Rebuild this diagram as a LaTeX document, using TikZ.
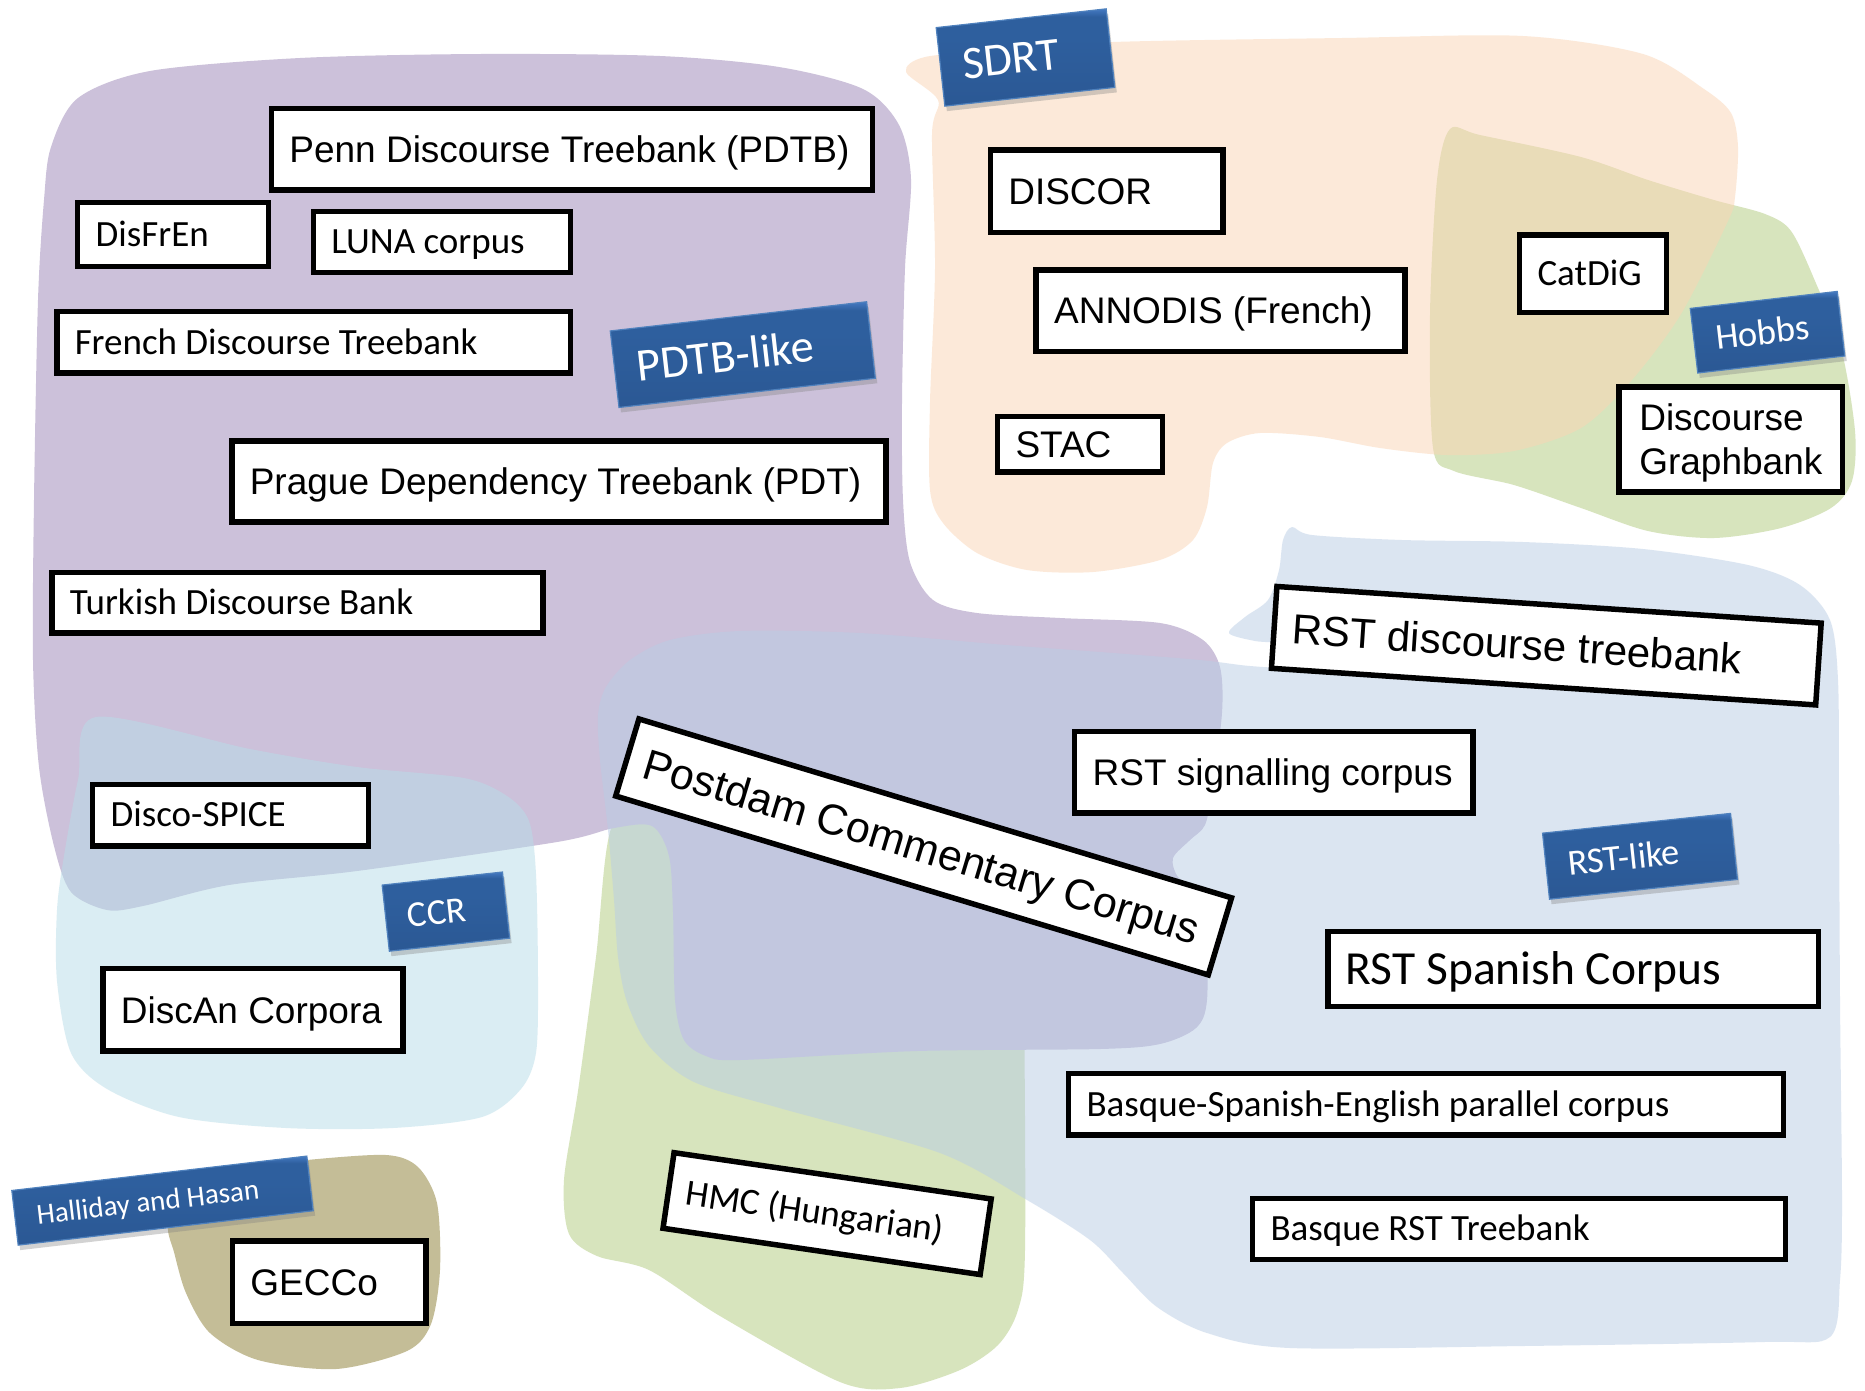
\documentclass[tikz,border=0pt]{standalone}
\usepackage{fontspec}
\usetikzlibrary{shadows}
\setmainfont{Carlito}
\newfontfamily\arialf{Liberation Sans}
\newfontfamily\calibf{Carlito}

% region fills
\definecolor{purpleF}{HTML}{CCC1DA}
\definecolor{cyanF}{HTML}{B7DDE8}
\definecolor{peachF}{HTML}{FBD5B5}
\definecolor{greenF}{HTML}{D7E4BD}
\definecolor{blueF}{HTML}{B9CDE5}
\definecolor{oliveF}{HTML}{C4BD97}
% tag colours
\definecolor{tagbot}{HTML}{2B5894}
\definecolor{tagmid}{HTML}{2E5F9E}
\definecolor{tagtop}{HTML}{4479C2}
\definecolor{tagedge}{HTML}{4F81BD}

\pgfdeclareverticalshading{tagshade}{100bp}{color(0bp)=(tagbot); color(25bp)=(tagbot); color(60bp)=(tagmid); color(71bp)=(tagmid); color(75bp)=(tagtop); color(100bp)=(tagtop)}

\tikzset{
  corpus/.style={draw=black, line width=5.5pt, fill=white, inner xsep=18pt,
    inner ysep=0pt, text depth=0pt},
  tag/.style={shading=tagshade, draw=tagedge, line width=1.2pt, text=white,
    inner xsep=22pt, inner ysep=0pt, text depth=0pt,
    drop shadow={shadow xshift=2pt, shadow yshift=-5pt, opacity=0.35}},
  ar/.style={font=\arialf\fontsize{#1}{#1}\selectfont},
  ca/.style={font=\calibf\fontsize{#1}{#1}\selectfont},
  % text height = cap height, so that capitals sit centred in their box
  a37/.style={ar=37, text height=26.5pt},
  c37/.style={ca=37, text height=23.8pt},
}

\begin{document}
\begin{tikzpicture}[x=1pt, y=-1pt]
\useasboundingbox (0,0) rectangle (1865,1390);
\fill[white] (0,0) rectangle (1865,1390);

% ---------- regions ----------
% Hungarian corpus region
\fill[greenF] plot[smooth cycle, tension=0.5] coordinates {
 (612,826) (660,805) (800,800) (1000,805) (1020,830) (1024,1000) (1025,1250)
 (1018,1310) (998,1345) (960,1370) (900,1388) (840,1382) (720,1316) (649,1270)
 (597,1256) (569,1234) (564,1180) (578,1091) (596,957)};

% PDTB-like region
\fill[purpleF] plot[smooth cycle, tension=0.5] coordinates {
 (51,147) (78,98) (150,71) (300,58) (480,54) (660,56) (779,67) (863,89) (899,125)
 (911,179) (905,268) (902,402) (903,500) (910,562) (933,600) (977,613) (1060,618)
 (1160,623) (1203,640) (1220,667) (1222,713) (1212,790) (1205,825) (1190,840)
 (1173,858) (1178,877) (1198,890) (1206,920) (1207,1000) (1196,1028) (1160,1044)
 (1100,1049) (917,1051) (740,1060) (706,1056) (684,1040) (675,1000) (673,912)
 (669,856) (652,826) (614,828) (557,842) (357,871) (229,885) (143,906) (107,910)
 (71,892) (54,846) (39,767) (33,660) (34,500) (38,300) (44,200)};

% CCR region
\fill[cyanF, fill opacity=0.5] plot[smooth cycle, tension=0.5] coordinates {
 (96,717) (250,749) (357,767) (464,778) (507,796) (529,821) (536,874) (538,981)
 (536,1053) (521,1089) (482,1117) (393,1128) (286,1128) (179,1117) (107,1089)
 (71,1053) (57,981) (57,910) (64,856) (78,780)};

% Hobbs region
\fill[greenF] plot[smooth cycle, tension=0.5] coordinates {
 (1450,129) (1480,135) (1581,157) (1648,180) (1714,200) (1765,214) (1791,231)
 (1815,281) (1841,348) (1855,431) (1852,481) (1831,508) (1781,528) (1714,538)
 (1648,531) (1581,508) (1514,485) (1454,471) (1433,448) (1430,314) (1437,180)};

% SDRT region
\fill[peachF, fill opacity=0.5] plot[smooth cycle, tension=0.5] coordinates {
 (906,72) (925,57) (1000,50) (1113,42) (1342,38) (1523,36) (1643,54) (1704,89)
 (1731,113) (1738,147) (1735,197) (1728,221) (1681,314) (1631,381) (1581,428)
 (1514,451) (1447,455) (1380,448) (1320,437) (1260,433) (1227,443) (1213,463)
 (1207,507) (1193,540) (1160,560) (1093,572) (1027,570) (977,553) (943,523)
 (930,490) (930,402) (935,268) (932,134) (938,100)};

% RST-like region
\fill[blueF, fill opacity=0.5] plot[smooth cycle, tension=0.5] coordinates {
 (606,687) (630,660) (670,640) (740,631) (860,633) (1006,645) (1100,652)
 (1200,660) (1250,666) (1285,666) (1286,645) (1255,641) (1229,633) (1245,617)
 (1268,600) (1279,570) (1283,540) (1292,527) (1312,535) (1402,540) (1523,542)
 (1643,549) (1748,565) (1800,585) (1830,620) (1838,680) (1839,800) (1840,1000)
 (1842,1200) (1840,1280) (1830,1337) (1764,1342) (1523,1346) (1290,1348)
 (1207,1333) (1157,1307) (1123,1273) (1090,1240) (1027,1200) (940,1153)
 (783,1109) (694,1082) (649,1046) (627,1002) (618,957) (614,900) (608,830)
 (600,760) (598,715)};

% GECCo region
\fill[oliveF] plot[smooth cycle, tension=0.5] coordinates {
 (307,1160) (386,1155) (418,1167) (437,1203) (440,1270) (431,1324) (407,1351)
 (336,1369) (258,1360) (210,1333) (186,1293) (174,1252) (168,1226) (180,1190)
 (250,1168)};

% ---------- corpora ----------
\node[corpus, a37, minimum height=81.6] (penn) at (572,149.4)
  {\makebox[565.2pt][l]{Penn Discourse Treebank (PDTB)}};
\node[corpus, c37, minimum height=64.1] (disfren) at (173,234.4)
  {\makebox[154.6pt][l]{DisFrEn}};
\node[corpus, c37, minimum height=61.4] (luna) at (441.9,242)
  {\makebox[221pt][l]{LUNA corpus}};
\node[corpus, c37, minimum height=61.5] (fdtb) at (313.5,342.4)
  {\makebox[477.5pt][l]{French Discourse Treebank}};
\node[corpus, a37, minimum height=80.7] (pdt) at (558.8,481.5)
  {\makebox[618pt][l]{Prague Dependency Treebank (PDT)}};
\node[corpus, c37, minimum height=60.6] (tdb) at (297.4,602.7)
  {\makebox[455pt][l]{Turkish Discourse Bank}};

\node[corpus, a37, minimum height=82.5] (discor) at (1106.6,191.3)
  {\makebox[196.6pt][l]{DISCOR}};
\node[corpus, a37, minimum height=81.5] (annodis) at (1220.5,310.5)
  {\makebox[332.8pt][l]{ANNODIS (French)}};
\node[corpus, a37, minimum height=55.3] (stac) at (1080,444.2)
  {\makebox[129pt][l]{STAC}};
\node[corpus, c37, minimum height=77.6] (catdig) at (1593,273.7)
  {\makebox[111pt][l]{CatDiG}};
\node[corpus, font=\arialf\fontsize{37}{43.3}\selectfont, text height=30pt,
  text depth=47pt, minimum height=105, minimum width=223.6] (graphbank) at (1730.8,439.3)
  {\begin{tabular}[t]{@{}l@{}}Discourse\\Graphbank\end{tabular}};

\node[corpus, ar=42, text height=30.1pt, minimum height=82, rotate=-3.85] (rstdt) at (1546.3,645.7)
  {\makebox[509.5pt][l]{RST discourse treebank}};
\node[corpus, a37, minimum height=81.6] (rstsig) at (1273.9,772.4)
  {\makebox[362.4pt][l]{RST signalling corpus}};
\node[corpus, ca=47.5, text height=30.6pt, minimum height=75] (rstsp) at (1573.1,969)
  {\makebox[454.7pt][l]{RST Spanish Corpus}};
\node[corpus, c37, minimum height=61.5] (bspe) at (1426,1104.3)
  {\makebox[678.8pt][l]{Basque-Spanish-English parallel corpus}};
\node[corpus, c37, minimum height=61] (basquerst) at (1518.9,1229)
  {\makebox[496.8pt][l]{Basque RST Treebank}};

\node[corpus, ar=43, text height=30.8pt, minimum height=80.5, rotate=-16.8] (pcc) at (923.6,846.9)
  {\makebox[583pt][l]{Postdam Commentary Corpus}};
\node[corpus, c37, minimum height=76.4, rotate=-8.3] (hmc) at (827.1,1213.6)
  {\makebox[284.5pt][l]{HMC (Hungarian)}};

\node[corpus, c37, minimum height=61.5] (discospice) at (230.5,815)
  {\makebox[239.7pt][l]{Disco-SPICE}};
\node[corpus, a37, minimum height=82.4] (discan) at (253,1009.9)
  {\makebox[264.3pt][l]{DiscAn Corpora}};
\node[corpus, a37, minimum height=82.5] (gecco) at (329.2,1282.2)
  {\makebox[157.6pt][l]{GECCo}};

% ---------- framework tags ----------
\node[tag, ca=46.5, text height=29.9pt, minimum height=79, rotate=6.3] (sdrt) at (1025.5,57.5)
  {\makebox[127pt][l]{SDRT}};
\node[tag, ca=46.5, text height=29.9pt, minimum height=77, rotate=6.5] (pdtblike) at (742.8,354.6)
  {\makebox[214pt][l]{PDTB-like}};
\node[tag, ca=36.5, text height=23.5pt, minimum height=65, rotate=6.6] (hobbs) at (1767.5,332.2)
  {\makebox[104pt][l]{Hobbs}};
\node[tag, ca=36.5, text height=23.5pt, minimum height=66.5, rotate=6.2] (ccr) at (445.9,911.6)
  {\makebox[77pt][l]{CCR}};
\node[tag, ca=36.5, text height=23.5pt, minimum height=66.4, rotate=6] (rstlike) at (1640,856.3)
  {\makebox[145pt][l]{RST-like}};
\node[tag, ca=29, text height=18.7pt, minimum height=55, rotate=6.65] (halliday) at (162.5,1200.6)
  {\makebox[253pt][l]{Halliday and Hasan}};
\end{tikzpicture}
\end{document}
